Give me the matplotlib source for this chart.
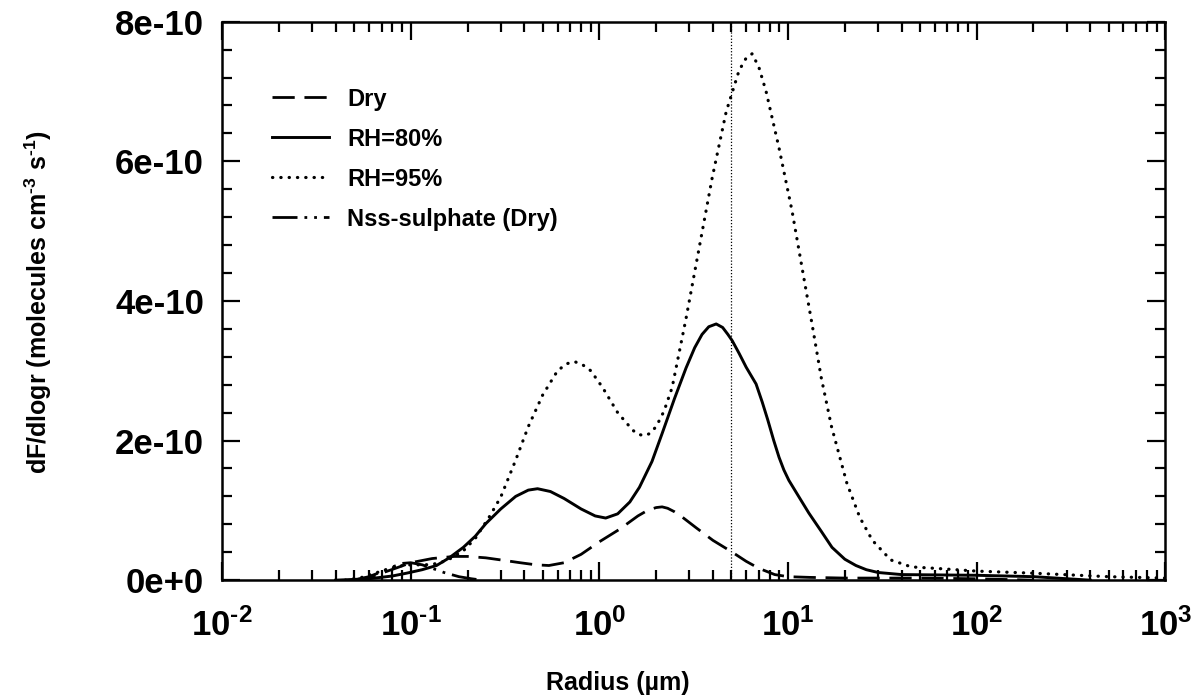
import numpy as np
import matplotlib
matplotlib.use("Agg")
import matplotlib.pyplot as plt
from matplotlib.ticker import FixedLocator, FixedFormatter, LogLocator, NullFormatter

plt.rcParams['font.family'] = ['Liberation Sans', 'DejaVu Sans']
plt.rcParams['mathtext.fontset'] = 'custom'
plt.rcParams['mathtext.rm'] = 'Liberation Sans:bold'
plt.rcParams['mathtext.default'] = 'rm'

# datos (valores en unidades de 1e-10)
r_dry = [0.05, 0.06, 0.07, 0.085, 0.1, 0.13, 0.17, 0.2, 0.25, 0.3, 0.38, 0.46, 0.54, 0.65, 0.8,
         1.0, 1.28, 1.6, 1.8, 2.0, 2.15, 2.3, 2.5, 2.7, 3.26, 4.0, 5.0, 6.0, 7.0, 8.5, 10, 13, 20,
         50, 100, 200]
v_dry = [0.0, 0.04, 0.1, 0.18, 0.25, 0.31, 0.34, 0.34, 0.32, 0.29, 0.25, 0.22, 0.21, 0.25, 0.37,
         0.55, 0.73, 0.92, 1.0, 1.04, 1.05, 1.03, 0.98, 0.92, 0.75, 0.57, 0.41, 0.27, 0.17, 0.08,
         0.05, 0.04, 0.03, 0.03, 0.02, 0.0]

r_80 = [0.04, 0.06, 0.08, 0.095, 0.115, 0.137, 0.16, 0.19, 0.22, 0.25, 0.3, 0.36, 0.42, 0.47, 0.55,
        0.65, 0.8, 0.95, 1.08, 1.25, 1.45, 1.63, 1.9, 2.15, 2.5, 2.88, 3.2, 3.5, 3.8, 4.16, 4.5,
        4.8, 5.06, 5.5, 6.0, 6.77, 7.3, 7.8, 8.4, 8.96, 9.5, 10.1, 11.5, 12.9, 15, 17.1, 20, 22.9,
        26, 30, 40, 100, 200, 400]
v_80 = [0.0, 0.02, 0.06, 0.1, 0.15, 0.21, 0.32, 0.47, 0.63, 0.81, 1.02, 1.2, 1.29, 1.31, 1.27,
        1.17, 1.02, 0.92, 0.89, 0.95, 1.12, 1.33, 1.7, 2.1, 2.6, 3.04, 3.33, 3.52, 3.63, 3.67, 3.62,
        3.52, 3.43, 3.25, 3.05, 2.81, 2.55, 2.3, 2.0, 1.76, 1.58, 1.43, 1.18, 0.96, 0.7, 0.47, 0.3,
        0.21, 0.15, 0.11, 0.08, 0.07, 0.05, 0.0]

r_95 = [0.045, 0.055, 0.07, 0.085, 0.1, 0.12, 0.14, 0.16, 0.19, 0.22, 0.26, 0.3, 0.36, 0.42, 0.5,
        0.6, 0.67, 0.74, 0.82, 0.9, 1.04, 1.25, 1.5, 1.6, 1.73, 1.85, 2.0, 2.2, 2.43, 2.88, 3.38,
        3.96, 4.7, 5.5, 6.0, 6.45, 7.0, 7.65, 8.96, 10.5, 12, 13.4, 15, 17, 20.5, 24, 28, 35, 45,
        60, 100, 200, 500, 1000]
v_95 = [0.0, 0.04, 0.13, 0.2, 0.22, 0.22, 0.24, 0.3, 0.42, 0.6, 0.9, 1.19, 1.72, 2.2, 2.65,
        3.0, 3.1, 3.13, 3.08, 3.0, 2.76, 2.4, 2.15, 2.09, 2.07, 2.1, 2.2, 2.42, 2.76, 3.75, 4.76,
        5.76, 6.71, 7.3, 7.48, 7.54, 7.35, 7.0, 6.19, 5.29, 4.4, 3.67, 2.9, 2.2, 1.39, 0.9, 0.57,
        0.29, 0.19, 0.17, 0.13, 0.1, 0.05, 0.03]

r_nss = [0.05, 0.06, 0.07, 0.08, 0.09, 0.1, 0.115, 0.13, 0.15, 0.18, 0.21, 0.24]
v_nss = [0.0, 0.05, 0.12, 0.19, 0.24, 0.25, 0.22, 0.17, 0.11, 0.05, 0.02, 0.0]

r_linea = 5.0
yticks = [0, 2e-10, 4e-10, 6e-10, 8e-10]
ylabels = ['0e+0', '2e-10', '4e-10', '6e-10', '8e-10']
xticks = [1e-2, 1e-1, 1e0, 1e1, 1e2, 1e3]
xlabels = [r'$10^{\text{-2}}$', r'$10^{\text{-1}}$', r'$10^{0}$',
           r'$10^{1}$', r'$10^{2}$', r'$10^{3}$']

escala = 1e-10

fig = plt.figure(figsize=(11.94, 6.99), dpi=100)
ax = fig.add_axes([0.186, 0.170, 0.790, 0.799])

ax.plot(r_dry, np.array(v_dry) * escala, color='black', lw=2.0, ls=(0, (8, 3.5)), label='Dry')
ax.plot(r_80, np.array(v_80) * escala, color='black', lw=2.1, ls='-', label='RH=80%')
ax.plot(r_95, np.array(v_95) * escala, color='black', lw=2.3, ls=(0, (0.1, 2.5)),
        dash_capstyle='round', label='RH=95%')
ax.plot(r_nss, np.array(v_nss) * escala, color='black', lw=2.0, ls=(0, (9, 2.5, 1, 2.5, 1, 2.5)),
        label='Nss-sulphate (Dry)')
ax.axvline(r_linea, color='black', lw=0.9, ls=(0, (1, 1.5)))

ax.set_xscale('log')
ax.set_xlim(1e-2, 1e3)
ax.set_ylim(0, 8e-10)
ax.xaxis.set_major_locator(FixedLocator(xticks))
ax.xaxis.set_major_formatter(FixedFormatter(xlabels))
ax.xaxis.set_minor_locator(LogLocator(base=10, subs=np.arange(2, 10), numticks=20))
ax.xaxis.set_minor_formatter(NullFormatter())
ax.yaxis.set_major_locator(FixedLocator(yticks))
ax.yaxis.set_major_formatter(FixedFormatter(ylabels))
ax.yaxis.set_minor_locator(FixedLocator(np.arange(0, 8.01e-10, 0.4e-10)))

ax.tick_params(which='both', direction='in', top=True, right=True, width=1.6)
ax.tick_params(which='major', length=13)
ax.tick_params(which='minor', length=7)
ax.tick_params(axis='y', which='major', labelsize=25, pad=13)
ax.tick_params(axis='x', which='major', labelsize=25, pad=20)
for lab in ax.get_yticklabels():
    lab.set_fontweight('bold')
for s in ax.spines.values():
    s.set_linewidth(1.8)

ax.set_xlabel('Radius (µm)', fontsize=18, fontweight='bold')
ax.set_ylabel(r'dF/dlogr (molecules cm$^{\text{-3}}$ s$^{\text{-1}}$)',
              fontsize=18, fontweight='bold')
ax.xaxis.set_label_coords(0.42, -0.162)
ax.yaxis.set_label_coords(-0.178, 0.498)

leg = ax.legend(loc='upper left', bbox_to_anchor=(0.030, 0.92), frameon=False,
                prop={'size': 17, 'weight': 'bold'}, handlelength=2.45, handletextpad=0.75,
                labelspacing=0.72)

fig.savefig('out.png', dpi=100)
